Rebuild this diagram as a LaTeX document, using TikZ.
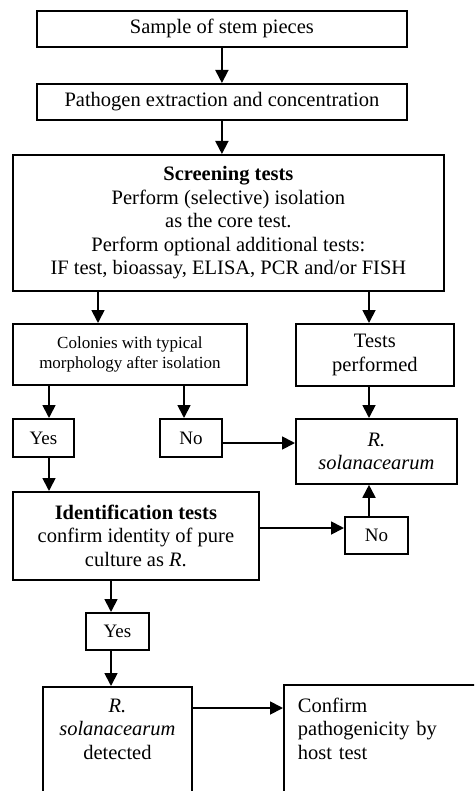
\documentclass[tikz,border=0pt]{standalone}
\usepackage{fontspec}
\setmainfont{Liberation Serif}
\usetikzlibrary{arrows.meta}

\tikzset{
  box/.style={draw, line width=1.8pt, inner sep=0pt, align=center, anchor=north west},
  flow/.style={line width=1.8pt, -{Triangle[length=13pt,width=13pt]}},
  every node/.style={font=\fontsize{20.5}{23.5}\selectfont}
}

\begin{document}
\begin{tikzpicture}[x=1pt,y=-1pt]
        \useasboundingbox (0,0) rectangle (474,791);
        \clip (0,0) rectangle (474,791);
        % boxes
        \node[box, minimum width=370, minimum height=36] (sample) at (36,10) {Sample of stem pieces};
        \node[box, minimum width=370, minimum height=36] (extract) at (36,83) {Pathogen extraction and concentration};
        \node[box, minimum width=431, minimum height=136] (screen) at (12,154) {\textbf{Screening tests}\\ Perform (selective) isolation\\ as the core test.\\ Perform optional additional tests:\\ IF test, bioassay, ELISA, PCR and/or FISH};
        \node[box, minimum width=234, minimum height=61, font=\fontsize{17}{20}\selectfont] (colon) at (12,323) {Colonies with typical\\ morphology after isolation};
        \node[box, minimum width=158, minimum height=62] (perf) at (295,323) {Tests\\ performed};
        \node[box, minimum width=61, minimum height=38, font=\fontsize{19}{22}\selectfont] (yes1) at (12,418) {Yes};
        \node[box, minimum width=62, minimum height=38, font=\fontsize{19}{22}\selectfont] (no1) at (159,418) {No};
        \node[box, minimum width=161, minimum height=65] (rsol) at (295,418) {\textit{R.}\\ \textit{solanacearum}};
        \node[box, minimum width=246, minimum height=88] (ident) at (12,491) {\textbf{Identification tests}\\ confirm identity of pure\\ culture as \textit{R}.};
        \node[box, minimum width=63, minimum height=37, font=\fontsize{19}{22}\selectfont] (no2) at (344,516) {No};
        \node[box, minimum width=63, minimum height=37, font=\fontsize{19}{22}\selectfont] (yes2) at (85,612) {Yes};
        % open boxes at the bottom
        \node[box, text width=149, inner xsep=0pt, inner ysep=12pt, text depth=100pt] (det) at (42,686) {\textit{R.}\\ \textit{solanacearum}\\ detected};
        \node[box, align=left, text width=200, inner xsep=14pt, inner ysep=13pt, text depth=100pt] (confirm) at (283,684) {Confirm\\ pathogenicity by\\ host test};
        % arrows
        \draw[flow] (sample.south) -- (extract.north);
        \draw[flow] (extract.south) -- (extract.south |- screen.north);
        \draw[flow] (screen.south -| 98,0) -- (colon.north -| 98,0);
        \draw[flow] (screen.south -| 369,0) -- (perf.north -| 369,0);
        \draw[flow] (colon.south -| 49,0) -- (yes1.north -| 49,0);
        \draw[flow] (colon.south -| 184,0) -- (no1.north -| 184,0);
        \draw[flow] (perf.south -| 369,0) -- (rsol.north -| 369,0);
        \draw[flow] (no1.east |- 0,443) -- (rsol.west |- 0,443);
        \draw[flow] (yes1.south -| 49,0) -- (ident.north -| 49,0);
        \draw[flow] (ident.east |- 0,528) -- (no2.west |- 0,528);
        \draw[flow] (no2.north -| 369,0) -- (rsol.south -| 369,0);
        \draw[flow] (ident.south -| 111,0) -- (yes2.north -| 111,0);
        \draw[flow] (yes2.south -| 111,0) -- (det.north -| 111,0);
        \draw[flow] (det.east |- 0,708) -- (confirm.west |- 0,708);
\end{tikzpicture}
\end{document}
